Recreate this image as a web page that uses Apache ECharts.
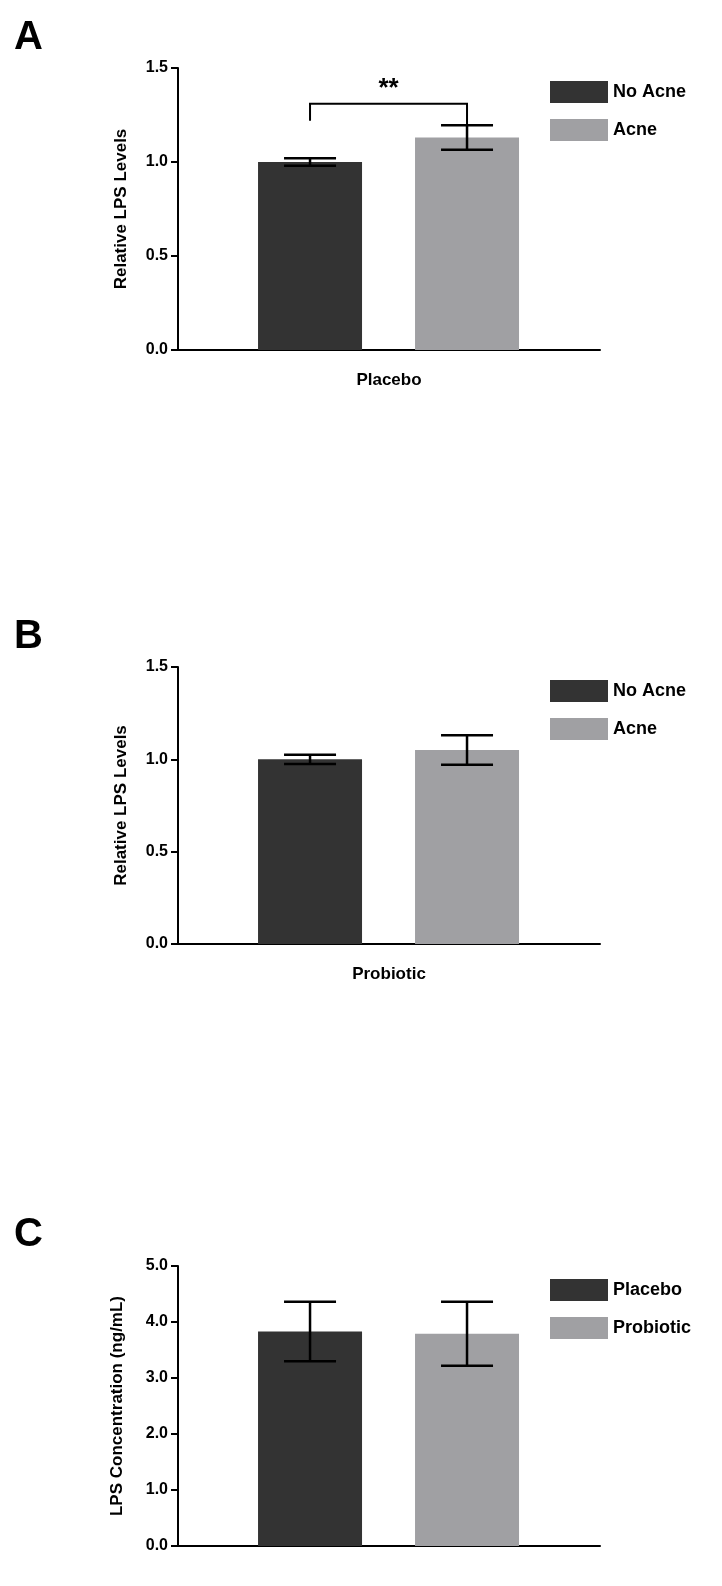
<!DOCTYPE html><html><head><meta charset="utf-8">
<script src="https://cdn.jsdelivr.net/npm/echarts@6/dist/echarts.min.js"></script>
<style>body{margin:0;background:#fff}#c{width:722px;height:1586px}</style></head><body><div id="c"></div>
<script>
const seriesA = {names:['No Acne','Acne'], values:[1.0,1.13], errors:[0.02,0.065]};
const seriesB = {names:['No Acne','Acne'], values:[1.0,1.05], errors:[0.025,0.08]};
const seriesC = {names:['Placebo','Probiotic'], values:[3.83,3.79], errors:[0.53,0.57]};
const catA='Placebo', catB='Probiotic', catC='';
const yTitles=['Relative LPS Levels','Relative LPS Levels','LPS Concentration (ng/mL)'];
const colors=['#333333','#a0a0a3'];
const chart=echarts.init(document.getElementById('c'));
const panels=[{d:seriesA,c:catA,top:68,h:282,max:1.5,iv:0.5,fmt:v=>v.toFixed(1)},
{d:seriesB,c:catB,top:667,h:277,max:1.5,iv:0.5,fmt:v=>v.toFixed(1)},
{d:seriesC,c:catC,top:1266,h:280,max:5,iv:1,fmt:v=>v.toFixed(1)}];
const grid=[],xAxis=[],yAxis=[],series=[],legend=[];
const F='Liberation Sans, Arial, sans-serif';
panels.forEach((p,i)=>{
 grid.push({left:178,width:422,top:p.top,height:p.h});
 xAxis.push({type:'value',gridIndex:i,min:-0.841,max:1.847,splitLine:{show:false},axisLabel:{show:false},axisTick:{show:false},
  axisLine:{show:true,onZero:false,lineStyle:{color:'#000',width:2}},name:p.c,nameLocation:'middle',nameGap:22,
  nameTextStyle:{fontFamily:F,fontWeight:'bold',fontSize:17,color:'#000'}});
 yAxis.push({type:'value',gridIndex:i,min:0,max:p.max,interval:p.iv,splitLine:{show:false},
  axisLine:{show:true,onZero:false,lineStyle:{color:'#000',width:2}},axisTick:{show:true,length:7,lineStyle:{width:2}},
  axisLabel:{fontFamily:F,fontWeight:'bold',fontSize:16,color:'#000',formatter:p.fmt,margin:10},
  name:yTitles[i],nameLocation:'middle',nameGap:i==2?52:48,nameTextStyle:{fontFamily:F,fontWeight:'bold',fontSize:17,color:'#000'}});
 p.d.names.forEach((n,j)=>{
  series.push({name:n,type:'bar',xAxisIndex:i,yAxisIndex:i,barWidth:104,barGap:'-100%',data:[[j,p.d.values[j]]],itemStyle:{color:colors[j]}});
 });
 series.push({type:'custom',xAxisIndex:i,yAxisIndex:i,data:p.d.values.map((v,j)=>[j,v-p.d.errors[j],v+p.d.errors[j]]),z:10,
  renderItem:(params,api)=>{const lo=api.coord([api.value(0),api.value(1)]),hi=api.coord([api.value(0),api.value(2)]);const w=26;
   const st={stroke:'#000',lineWidth:2.5};
   return {type:'group',children:[{type:'line',shape:{x1:hi[0],y1:lo[1],x2:hi[0],y2:hi[1]},style:st},
   {type:'line',shape:{x1:hi[0]-w,y1:hi[1],x2:hi[0]+w,y2:hi[1]},style:st},
   {type:'line',shape:{x1:hi[0]-w,y1:lo[1],x2:hi[0]+w,y2:lo[1]},style:st}]};}});
 legend.push({data:p.d.names,left:545,top:p.top+8,orient:'vertical',itemWidth:58,itemHeight:22,itemGap:16,icon:'rect',
  textStyle:{fontFamily:F,fontWeight:'bold',fontSize:18,color:'#000'}});
});
// significance bracket in panel A
const bracket=[[0,1.31,1.22,1.2]];
series.push({type:'custom',xAxisIndex:0,yAxisIndex:0,data:bracket,z:10,renderItem:(params,api)=>{
 const a=api.coord([0,api.value(1)]),b=api.coord([1,api.value(1)]),la=api.coord([0,api.value(2)]),rb=api.coord([1,api.value(3)]);
 const st={stroke:'#000',lineWidth:2};
 return {type:'group',children:[{type:'polyline',shape:{points:[[a[0],la[1]],a,b,[b[0],rb[1]]]},style:{...st,fill:null}},
 {type:'text',x:(a[0]+b[0])/2,y:a[1]-2,style:{text:'**',fontFamily:F,fontWeight:'bold',fontSize:26,textAlign:'center',textVerticalAlign:'bottom',fill:'#000'}}]};}});
chart.setOption({animation:false,grid,xAxis,yAxis,series,legend,
 graphic:[['A',18],['B',617],['C',1215]].map(([t,y])=>({type:'text',left:14,top:y,style:{text:t,fontFamily:F,fontWeight:'bold',fontSize:40,fill:'#000'}}))});
</script></body></html>
